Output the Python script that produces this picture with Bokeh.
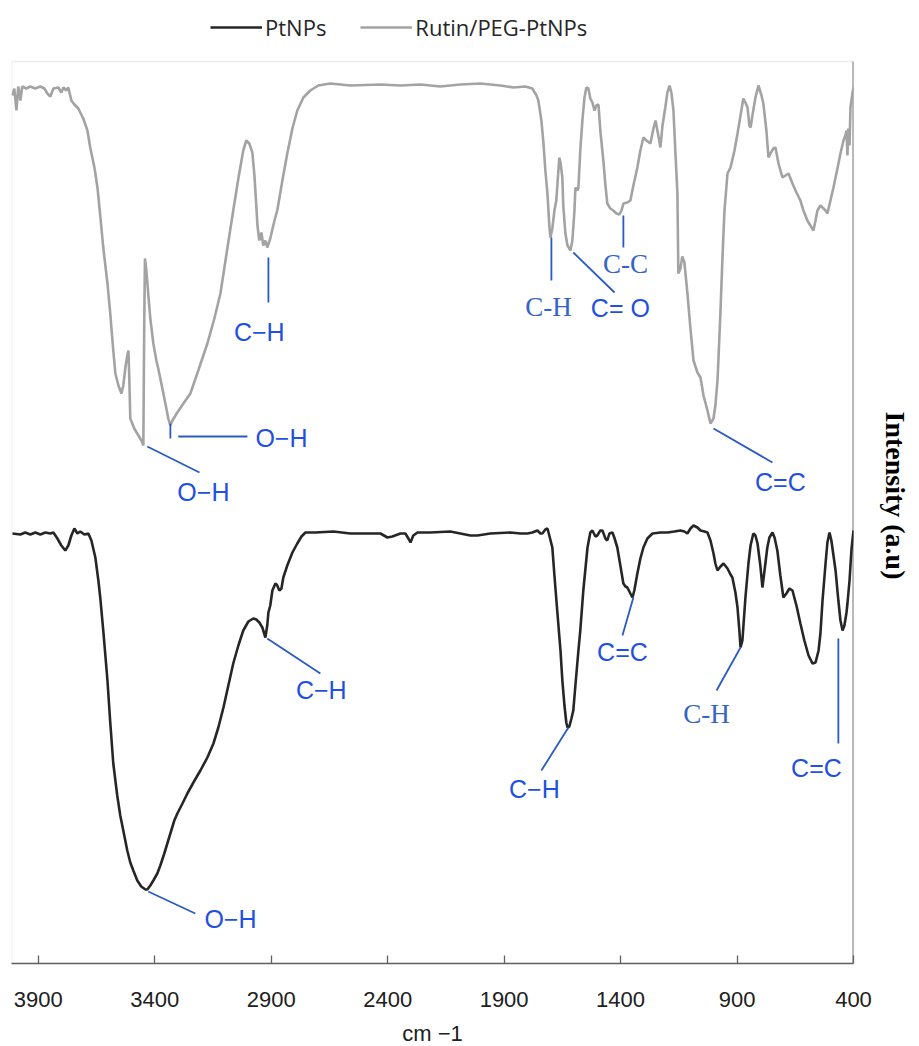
import math
from bokeh.plotting import figure
from bokeh.models import (Range1d, LinearAxis, FixedTicker, Legend, LegendItem,
                          ColumnDataSource, BoxAnnotation)
from bokeh.core.properties import value
from bokeh.embed import file_html
from bokeh.resources import INLINE

# ---------------- data ----------------
rutin_wn = [4011, 4003, 3994, 3986, 3977, 3969, 3951, 3934, 3913, 3891, 3874, 3861, 3848, 3835, 3814, 3801,
            3792, 3780, 3771, 3758, 3745, 3728, 3707, 3689, 3677, 3659, 3646, 3634, 3621, 3603, 3591, 3578,
            3569, 3556, 3543, 3535, 3526, 3518, 3513, 3509, 3505, 3488, 3470, 3453, 3449, 3445, 3442, 3436,
            3428, 3419, 3406, 3393, 3385, 3376, 3363, 3350, 3342, 3333, 3324, 3303, 3277, 3247, 3213, 3174,
            3144, 3118, 3093, 3063, 3041, 3020, 3007, 2994, 2981, 2972, 2964, 2959, 2951, 2942, 2934, 2925,
            2917, 2904, 2886, 2874, 2852, 2831, 2809, 2788, 2762, 2732, 2698, 2646, 2560, 2431, 2345, 2259,
            2174, 2088, 2002, 1916, 1860, 1809, 1779, 1761, 1753, 1740, 1731, 1723, 1714, 1706, 1701, 1693,
            1684, 1676, 1667, 1663, 1658, 1650, 1646, 1637, 1628, 1615, 1607, 1598, 1594, 1585, 1581, 1573,
            1564, 1555, 1547, 1538, 1530, 1521, 1512, 1504, 1495, 1487, 1474, 1465, 1457, 1444, 1431, 1418,
            1405, 1396, 1388, 1371, 1358, 1345, 1328, 1315, 1302, 1289, 1272, 1259, 1250, 1238, 1229, 1220,
            1208, 1199, 1190, 1182, 1173, 1165, 1156, 1152, 1143, 1135, 1126, 1113, 1100, 1087, 1070, 1057,
            1044, 1027, 1014, 1001, 993, 984, 980, 971, 963, 954, 941, 928, 911, 898, 885, 873,
            864, 855, 847, 842, 834, 821, 808, 795, 787, 774, 765, 757, 744, 735, 722, 705,
            692, 679, 662, 645, 628, 615, 598, 585, 572, 563, 555, 542, 533, 520, 512, 499,
            486, 469, 456, 443, 435, 430, 426, 422, 417, 413, 404, 400]
rutin_int = [868, 875, 853, 877, 863, 877, 875, 877, 875, 877, 875, 870, 867, 875, 876, 871,
             876, 873, 876, 863, 859, 855, 845, 833, 816, 796, 776, 748, 716, 680, 650, 613,
             590, 578, 570, 578, 596, 608, 613, 583, 545, 535, 528, 521, 518, 643, 705, 693,
             670, 645, 620, 603, 595, 585, 570, 555, 545, 538, 543, 551, 560, 570, 593, 620,
             645, 670, 708, 753, 785, 813, 823, 820, 811, 788, 758, 738, 723, 731, 718, 723,
             716, 725, 743, 753, 783, 810, 835, 853, 866, 873, 878, 880, 878, 879, 878, 879,
             877, 879, 880, 878, 876, 877, 875, 868, 863, 843, 820, 793, 770, 738, 726, 735,
             753, 763, 793, 806, 801, 786, 758, 730, 718, 713, 723, 753, 776, 773, 776, 813,
             843, 866, 876, 875, 865, 861, 853, 858, 859, 833, 803, 778, 760, 755, 753, 750,
             749, 753, 760, 761, 763, 778, 796, 813, 826, 823, 820, 835, 843, 828, 816, 838,
             856, 871, 878, 871, 853, 813, 770, 690, 695, 707, 701, 670, 635, 603, 591, 586,
             568, 553, 540, 545, 558, 583, 603, 653, 703, 753, 790, 796, 813, 830, 848, 865,
             861, 856, 838, 836, 848, 866, 878, 868, 860, 833, 806, 810, 815, 816, 800, 786,
             788, 790, 780, 771, 763, 753, 743, 738, 733, 743, 753, 758, 756, 753, 750, 763,
             776, 795, 810, 823, 828, 833, 808, 835, 818, 856, 871, 876]

ptnps_wn = [4011, 3977, 3956, 3934, 3913, 3891, 3870, 3848, 3835, 3818, 3801, 3784, 3771, 3758, 3745, 3732,
            3720, 3702, 3685, 3672, 3655, 3642, 3634, 3621, 3603, 3591, 3578, 3561, 3548, 3535, 3518, 3505,
            3492, 3475, 3458, 3440, 3432, 3419, 3406, 3389, 3376, 3359, 3346, 3329, 3316, 3303, 3281, 3260,
            3234, 3204, 3174, 3148, 3127, 3105, 3084, 3063, 3041, 3020, 2998, 2977, 2964, 2951, 2938, 2925,
            2917, 2912, 2904, 2895, 2882, 2874, 2865, 2856, 2848, 2831, 2809, 2788, 2770, 2753, 2710, 2633,
            2560, 2487, 2431, 2401, 2380, 2345, 2324, 2311, 2302, 2290, 2272, 2217, 2131, 2088, 2045, 2015,
            1959, 1873, 1830, 1800, 1779, 1757, 1744, 1736, 1723, 1714, 1706, 1693, 1684, 1671, 1658, 1650,
            1641, 1633, 1628, 1620, 1611, 1603, 1594, 1581, 1573, 1560, 1542, 1530, 1521, 1508, 1500, 1487,
            1478, 1465, 1457, 1448, 1435, 1427, 1414, 1401, 1388, 1379, 1371, 1358, 1349, 1341, 1328, 1315,
            1302, 1285, 1263, 1229, 1199, 1169, 1143, 1126, 1113, 1100, 1087, 1070, 1057, 1040, 1027, 1014,
            1001, 993, 984, 971, 958, 941, 928, 920, 907, 898, 890, 885, 877, 873, 864, 851,
            842, 830, 821, 812, 800, 791, 782, 770, 761, 748, 739, 727, 714, 701, 688, 675,
            662, 645, 628, 611, 593, 576, 563, 550, 542, 533, 520, 512, 503, 495, 486, 477,
            465, 456, 447, 439, 430, 426, 417, 409, 400]
ptnps_int = [430, 429, 431, 429, 431, 429, 431, 430, 431, 425, 418, 413, 418, 428, 435, 430,
             432, 429, 430, 423, 406, 383, 366, 333, 283, 241, 200, 168, 148, 133, 113, 101,
             93, 83, 77, 74, 74, 78, 83, 90, 98, 110, 120, 133, 143, 150, 160, 170,
             181, 193, 206, 220, 236, 256, 278, 300, 318, 333, 342, 345, 344, 341, 336, 326,
             338, 351, 358, 373, 380, 378, 373, 375, 386, 398, 411, 420, 427, 431, 431, 432,
             430, 430, 430, 426, 427, 430, 430, 425, 421, 428, 431, 431, 432, 430, 428, 428,
             430, 431, 430, 430, 431, 433, 430, 430, 434, 435, 428, 416, 388, 350, 313, 283,
             258, 241, 236, 237, 245, 253, 278, 313, 333, 373, 416, 431, 433, 427, 428, 433,
             433, 425, 423, 430, 431, 426, 416, 398, 380, 377, 376, 370, 366, 373, 390, 405,
             416, 425, 430, 431, 431, 432, 433, 432, 430, 435, 438, 436, 433, 432, 431, 423,
             410, 400, 393, 397, 400, 395, 389, 386, 371, 356, 333, 316, 323, 336, 366, 400,
             418, 430, 428, 420, 398, 376, 393, 416, 426, 431, 426, 413, 388, 366, 370, 375,
             373, 358, 340, 323, 308, 300, 301, 313, 330, 363, 400, 421, 431, 423, 408, 393,
             363, 343, 333, 338, 351, 360, 383, 413, 433]

x_ticks = [3900, 3400, 2900, 2400, 1900, 1400, 900, 400]
series_names = ["PtNPs", "Rutin/PEG-PtNPs"]
y_title = "Intensity (a.u)"
y_title_pos = [552]

# plotting box (data units); area above it holds the legend
box_wn = [4015, 400]
box_int = [0, 902]
view_int = [0, 963]

# peak annotations (sans labels): leader line start/end and label position, in data units
ann_text = ["C\u2212H", "O\u2212H", "O\u2212H", "C= O", "C=C", "O\u2212H", "C\u2212H", "C\u2212H", "C=C", "C=C"]
ann_x0 = [2912, 3299, 3432, 1603, 1001, 3428, 2917, 1624, 1345, 465]
ann_y0 = [706, 527, 517, 711, 535, 72, 325, 236, 366, 325]
ann_x1 = [2912, 3002, 3208, 1426, 748, 3226, 2689, 1740, 1392, 465]
ann_y1 = [661, 527, 491, 671, 501, 50, 290, 193, 328, 220]
ann_tx = [2951, 2856, 3191, 1401, 714, 3075, 2685, 1770, 1392, 559]
ann_ty = [632, 526, 472, 656, 482, 45, 274, 175, 312, 196]

# serif-styled annotations
ser_text = ["C-H", "C-C", "C-H"]
ser_x0 = [1697, 1388, 885]
ser_y0 = [726, 748, 316]
ser_x1 = [1697, 1388, 988]
ser_y1 = [683, 716, 273]
ser_tx = [1710, 1379, 1031]
ser_ty = [657, 700, 250]

# small tick at second O-H of top spectrum
tick_x = [3333]
tick_y0 = [540]
tick_y1 = [525]

# ---------------- figure ----------------
p = figure(frame_width=842, frame_height=963, output_backend="svg", toolbar_location=None,
           x_range=Range1d(box_wn[0], box_wn[1]), y_range=Range1d(view_int[0], view_int[1]),
           y_axis_location=None, min_border_left=11, min_border_right=0,
           min_border_top=0, min_border_bottom=0)
p.background_fill_color = "white"
p.border_fill_color = "white"
p.outline_line_color = None
p.xgrid.visible = False
p.ygrid.visible = False

# plot box outline (light grey)
p.add_layout(BoxAnnotation(left=box_wn[0], right=box_wn[1], bottom=box_int[0], top=box_int[1],
                           fill_alpha=0, line_color="#c0c0c0", line_width=1.5, level="underlay"))
# darker right edge of the box
p.segment(x0=[box_wn[1]], y0=[box_int[0]], x1=[box_wn[1]], y1=[box_int[1]],
          line_color="#7a7a7a", line_width=2)

grey = p.line(rutin_wn, rutin_int, line_color="#a3a3a3", line_width=2.6)
black = p.line(ptnps_wn, ptnps_int, line_color="#262626", line_width=2.6)

line_blue = "#2a5bc4"
text_blue = "#1f50e0"

seg = ColumnDataSource(dict(x0=ann_x0 + ser_x0 + tick_x, y0=ann_y0 + ser_y0 + tick_y0,
                            x1=ann_x1 + ser_x1 + tick_x, y1=ann_y1 + ser_y1 + tick_y1))
p.segment(x0="x0", y0="y0", x1="x1", y1="y1", source=seg, line_color=line_blue, line_width=1.8)

p.text(x=ann_tx, y=ann_ty, text=ann_text, text_color=text_blue, text_font=value("Liberation Sans"),
       text_font_size="25px", text_align="center", text_baseline="middle")
p.text(x=ser_tx, y=ser_ty, text=ser_text, text_color="#3563c8", text_font=value("Liberation Serif"),
       text_font_size="27px", text_align="center", text_baseline="middle")

# x axis
xa = p.xaxis[0]
xa.ticker = FixedTicker(ticks=x_ticks)
xa.major_tick_in = 8
xa.major_tick_out = 0
xa.minor_tick_line_color = None
xa.axis_line_color = "#606060"
xa.axis_line_width = 1.5
xa.major_tick_line_color = "#606060"
xa.major_tick_line_width = 1.3
xa.major_label_text_font = "Liberation Sans"
xa.major_label_text_font_size = "22px"
xa.major_label_text_color = "#202020"
xa.major_label_standoff = 28
xa.axis_label = "cm \u22121"
xa.axis_label_text_font = "Liberation Sans"
xa.axis_label_text_font_style = "normal"
xa.axis_label_text_font_size = "22px"
xa.axis_label_text_color = "#202020"
xa.axis_label_standoff = 11

# right axis carrying the rotated intensity title
ra = LinearAxis(ticker=FixedTicker(ticks=y_title_pos),
                major_label_overrides={y_title_pos[0]: y_title})
ra.major_tick_line_color = None
ra.minor_tick_line_color = None
ra.major_label_orientation = -math.pi / 2
ra.major_label_text_font = "Liberation Serif"
ra.major_label_text_font_style = "bold"
ra.major_label_text_font_size = "28px"
ra.major_label_text_color = "#000000"
ra.major_label_standoff = 36
ra.axis_line_color = None
p.add_layout(ra, "right")

legend = Legend(items=[LegendItem(label=series_names[0], renderers=[black]),
                       LegendItem(label=series_names[1], renderers=[grey])],
                orientation="horizontal", location=(199, 921))
legend.border_line_alpha = 0
legend.background_fill_alpha = 0
legend.label_text_font = "Open Sans"
legend.label_text_font_size = "22px"
legend.label_text_color = "#262626"
legend.glyph_width = 52
legend.glyph_height = 20
legend.label_height = 20
legend.label_standoff = 3
legend.spacing = 34
legend.padding = 0
legend.margin = 0
p.add_layout(legend, "center")

open("out.html", "w").write(file_html(p, INLINE))
